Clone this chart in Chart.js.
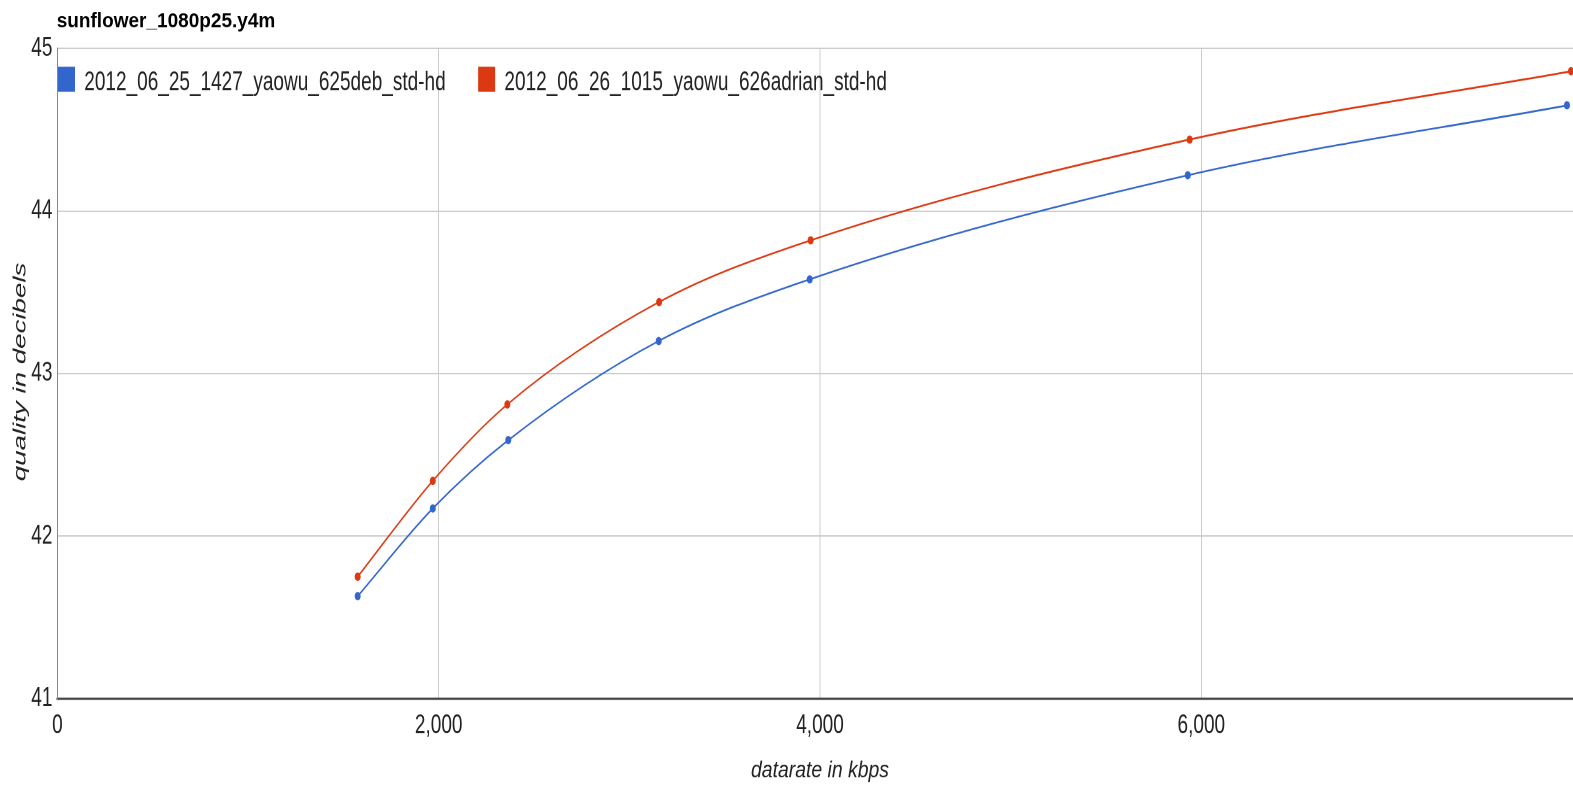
<!DOCTYPE html>
<html>
<head>
<meta charset="utf-8">
<script src="https://cdn.jsdelivr.net/npm/chart.js@4.4.1/dist/chart.umd.min.js"></script>
<style>
  html, body { margin: 0; padding: 0; background: #fff; overflow: hidden; width: 1573px; height: 785px; }
  #wrap { position: absolute; left: 0; top: 0; width: 1600px; height: 561px; transform: scaleY(1.399287); transform-origin: 0 0; }
</style>
</head>
<body>
<div id="wrap"><canvas id="c"></canvas></div>
<script>
const chartTitle = 'sunflower_1080p25.y4m';
const xTitle = 'datarate in kbps';
const yTitle = 'quality in decibels';
const seriesNames = ['2012_06_25_1427_yaowu_625deb_std-hd', '2012_06_26_1015_yaowu_626adrian_std-hd'];
const seriesColors = ['#3366cc', '#dc3912'];
const rateA = [1575, 1969, 2365, 3154, 3946, 5929, 7918];
const psnrA = [41.63, 42.17, 42.59, 43.20, 43.58, 44.22, 44.65];
const rateB = [1575, 1969, 2360, 3156, 3951, 5939, 7939];
const psnrB = [41.75, 42.34, 42.81, 43.44, 43.82, 44.44, 44.86];
const xTicks = [0, 2000, 4000, 6000];
const yTicks = [41, 42, 43, 44, 45];

const FONT = "'Liberation Sans', Arial, sans-serif";
const TXT = '#222';

function pts(xs, ys) { return xs.map((x, i) => ({ x: x, y: ys[i] })); }

const decor = {
  id: 'decor',
  afterDraw(chart) {
    const ctx = chart.ctx;
    const ca = chart.chartArea;
    ctx.save();
    // title
    ctx.save();
    ctx.translate(56.7, 19.5);
    ctx.scale(1, 0.78);
    ctx.font = 'bold 19px ' + FONT;
    ctx.fillStyle = '#000';
    ctx.textAlign = 'left';
    ctx.textBaseline = 'alphabetic';
    ctx.fillText(chartTitle, 0, 0);
    ctx.restore();
    // legend
    ctx.font = '19px ' + FONT;
    ctx.textAlign = 'left';
    ctx.textBaseline = 'alphabetic';
    let x = 58;
    chart.data.datasets.forEach((ds) => {
      ctx.fillStyle = ds.borderColor;
      ctx.fillRect(x, 47.7, 17, 17.8);
      ctx.fillStyle = TXT;
      ctx.fillText(ds.label, x + 26.3, 64.3);
      x = x + 26.3 + ctx.measureText(ds.label).width + 32.5;
    });
    // x title
    ctx.save();
    ctx.translate((ca.left + ca.right) / 2, 555.3);
    ctx.scale(1, 0.857);
    ctx.font = 'italic 19.4px ' + FONT;
    ctx.fillStyle = TXT;
    ctx.textAlign = 'center';
    ctx.fillText(xTitle, 0, 0);
    ctx.restore();
    // y title
    ctx.save();
    ctx.translate(20.8, 265.8);
    ctx.rotate(-Math.PI / 2);
    ctx.scale(1.13, 1);
    ctx.font = 'italic 17.5px ' + FONT;
    ctx.fillStyle = TXT;
    ctx.textAlign = 'center';
    ctx.textBaseline = 'middle';
    ctx.fillText(yTitle, 0, 0);
    ctx.restore();
    ctx.restore();
  }
};

new Chart(document.getElementById('c'), {
  type: 'line',
  data: {
    datasets: [
      { label: seriesNames[0], data: pts(rateA, psnrA), borderColor: seriesColors[0], backgroundColor: seriesColors[0],
        borderWidth: 1.3, pointRadius: 3, pointBorderWidth: 0, cubicInterpolationMode: 'monotone', fill: false },
      { label: seriesNames[1], data: pts(rateB, psnrB), borderColor: seriesColors[1], backgroundColor: seriesColors[1],
        borderWidth: 1.3, pointRadius: 3, pointBorderWidth: 0, cubicInterpolationMode: 'monotone', fill: false }
    ]
  },
  options: {
    responsive: true,
    maintainAspectRatio: false,
    animation: false,
    devicePixelRatio: 2,
    layout: { padding: { top: 34.66, right: 17.4, bottom: 0, left: 0 } },
    plugins: { legend: { display: false }, title: { display: false }, tooltip: { enabled: false } },
    scales: {
      x: {
        type: 'linear', min: 0, max: 8000,
        afterBuildTicks: (s) => { s.ticks = xTicks.map(v => ({ value: v })); },
        afterFit: (s) => { s.height = 61.8; s.paddingLeft = 0; s.paddingRight = 0; },
        grid: { color: '#cccccc', lineWidth: 1, drawTicks: false },
        border: { color: '#444444', width: 1.6 },
        ticks: { padding: 8, color: TXT, font: { family: FONT, size: 19 }, maxRotation: 0,
          callback: (v) => Number(v).toLocaleString('en-US') }
      },
      y: {
        type: 'linear', min: 41, max: 45,
        afterBuildTicks: (s) => { s.ticks = yTicks.map(v => ({ value: v })); },
        afterFit: (s) => { s.width = 57.4; s.paddingTop = 0; s.paddingBottom = 0; },
        grid: { color: '#cccccc', lineWidth: 1, drawTicks: false },
        border: { color: '#888888', width: 1 },
        ticks: { padding: 5, color: TXT, font: { family: FONT, size: 19 } }
      }
    }
  },
  plugins: [decor]
});
</script>
</body>
</html>
